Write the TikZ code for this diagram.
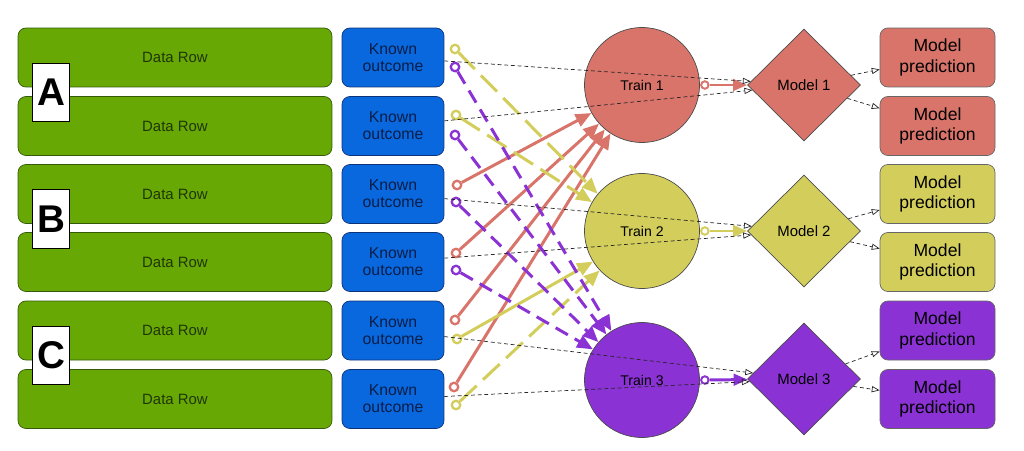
\documentclass[tikz,border=0pt]{standalone}
\usepackage{fontspec}
\setmainfont{Liberation Sans}
\usepackage{tikz}
\usetikzlibrary{shapes,arrows,arrows.meta,positioning}

\definecolor{rowgreen}{RGB}{104,168,4}
\definecolor{rowedge}{RGB}{52,90,10}
\definecolor{knownblue}{RGB}{10,104,222}
\definecolor{knownedge}{RGB}{14,50,120}
\definecolor{trainred}{RGB}{217,116,106}
\definecolor{trainyel}{RGB}{211,206,92}
\definecolor{trainvio}{RGB}{139,50,212}

\begin{document}
\begin{tikzpicture}[x=0.02cm,y=-0.02cm,
  datarow/.style={draw=rowedge,fill=rowgreen,rounded corners=4.5pt,minimum width=6.28cm,minimum height=1.18cm,text=rowedge!60!black,font=\fontsize{8.5}{10}\selectfont},
  known/.style={draw=knownedge,fill=knownblue,rounded corners=4.5pt,minimum width=2.04cm,minimum height=1.18cm,align=center,text=knownedge!60!black,font=\fontsize{9}{9.8}\selectfont},
  letterbox/.style={draw=black,fill=white,minimum width=0.74cm,minimum height=1.17cm,inner sep=0pt,font=\fontsize{22}{22}\selectfont\bfseries},
  train/.style={circle,draw=black!70,minimum size=2.3cm,inner sep=0pt,font=\fontsize{8}{9}\selectfont},
  model/.style={diamond,draw=black!70,minimum width=2.26cm,minimum height=2.24cm,inner sep=0pt,font=\fontsize{8.5}{10}\selectfont},
  pred/.style={draw=black!60,rounded corners=4.5pt,minimum width=2.3cm,minimum height=1.18cm,align=center,font=\fontsize{10}{11.5}\selectfont},
  tail/.style={circle,draw,fill=white,line width=1.3pt,minimum size=0.17cm,inner sep=0pt},
  feed/.style={line width=1.7pt,-{Triangle[length=9pt,width=7.5pt]}},
  longdash/.style={dash pattern=on 13pt off 5pt},
  shortdash/.style={dash pattern=on 8pt off 4.5pt},
  known2model/.style={black!85,thin,dash pattern=on 2.2pt off 1.6pt,-{Triangle[open,length=4.5pt,width=3.5pt]}}]
\useasboundingbox (0,0) rectangle (1024,450);

\foreach \i/\y in {1/57.5,2/126,3/194,4/262,5/330.5,6/399} {
  \node[datarow] (row\i) at (175,\y) {Data Row};
  \node[known] (ko\i) at (393,\y) {Known\\outcome};
}
\node[letterbox] (labA) at (51,92.5) {A};
\node[letterbox] (labB) at (51,219) {B};
\node[letterbox] (labC) at (51,355.5) {C};

% tails of the feeding arrows
\node[tail,draw=trainyel] (y1) at (455,49) {};
\node[tail,draw=trainvio] (v1) at (455,67) {};
\node[tail,draw=trainyel] (y2) at (456,115) {};
\node[tail,draw=trainvio] (v2) at (455,135) {};
\node[tail,draw=trainred] (p3) at (457,185) {};
\node[tail,draw=trainvio] (v3) at (456,202) {};
\node[tail,draw=trainred] (p4) at (456,253) {};
\node[tail,draw=trainvio] (v4) at (456,270) {};
\node[tail,draw=trainred] (p5) at (455,320) {};
\node[tail,draw=trainyel] (y5) at (457,339) {};
\node[tail,draw=trainred] (p6) at (454,387) {};
\node[tail,draw=trainyel] (y6) at (456,405) {};

\node[train,fill=trainred] (train1) at (642,85) {Train 1};
\node[train,fill=trainyel] (train2) at (642,231) {Train 2};
\node[train,fill=trainvio] (train3) at (642,380) {Train 3};

\draw[feed,trainred] (p3) -- (train1.209);
\draw[feed,trainred] (p4) -- (train1.222);
\draw[feed,trainred] (p5) -- (train1.230);
\draw[feed,trainred] (p6) -- (train1.237);

\draw[feed,trainyel,longdash] (y1) -- (train2.140);
\draw[feed,trainyel,longdash] (y2) -- (train2.150);
\draw[feed,trainyel] (y5) -- (train2.212);
\draw[feed,trainyel,longdash] (y6) -- (train2.223);

\draw[feed,trainvio,shortdash] (v1) -- (train3.122);
\draw[feed,trainvio,shortdash] (v2) -- (train3.128);
\draw[feed,trainvio,shortdash] (v3) -- (train3.139);
\draw[feed,trainvio,shortdash] (v4) -- (train3.148);

\node[model,fill=trainred] (model1) at (804,85) {Model 1};
\node[model,fill=trainyel] (model2) at (804,231) {Model 2};
\node[model,fill=trainvio] (model3) at (804,379) {Model 3};

\foreach \i/\y/\c in {1/57.5/trainred,2/126/trainred,3/194/trainyel,4/262/trainyel,5/330.5/trainvio,6/399/trainvio}
  \node[pred,fill=\c] (pred\i) at (937.5,\y) {Model\\prediction};

\foreach \k/\c in {1/trainred,2/trainyel,3/trainvio} {
  \node[tail,draw=\c,minimum size=0.15cm,line width=1.1pt] (out\k) at (train\k.east) [xshift=0.1cm] {};
  \draw[\c,line width=1.7pt,-{Triangle[length=8pt,width=6.5pt]}] (out\k) -- (model\k);
}

\draw[known2model] (ko1) -- (model1);
\draw[known2model] (ko2) -- (model1);
\draw[known2model] (ko3) -- (model2);
\draw[known2model] (ko4) -- (model2);
\draw[known2model] (ko5) -- (model3);
\draw[known2model] (ko6) -- (model3);

\draw[known2model] (model1) -- (pred1);
\draw[known2model] (model1) -- (pred2);
\draw[known2model] (model2) -- (pred3);
\draw[known2model] (model2) -- (pred4);
\draw[known2model] (model3) -- (pred5);
\draw[known2model] (model3) -- (pred6);

\end{tikzpicture}
\end{document}
